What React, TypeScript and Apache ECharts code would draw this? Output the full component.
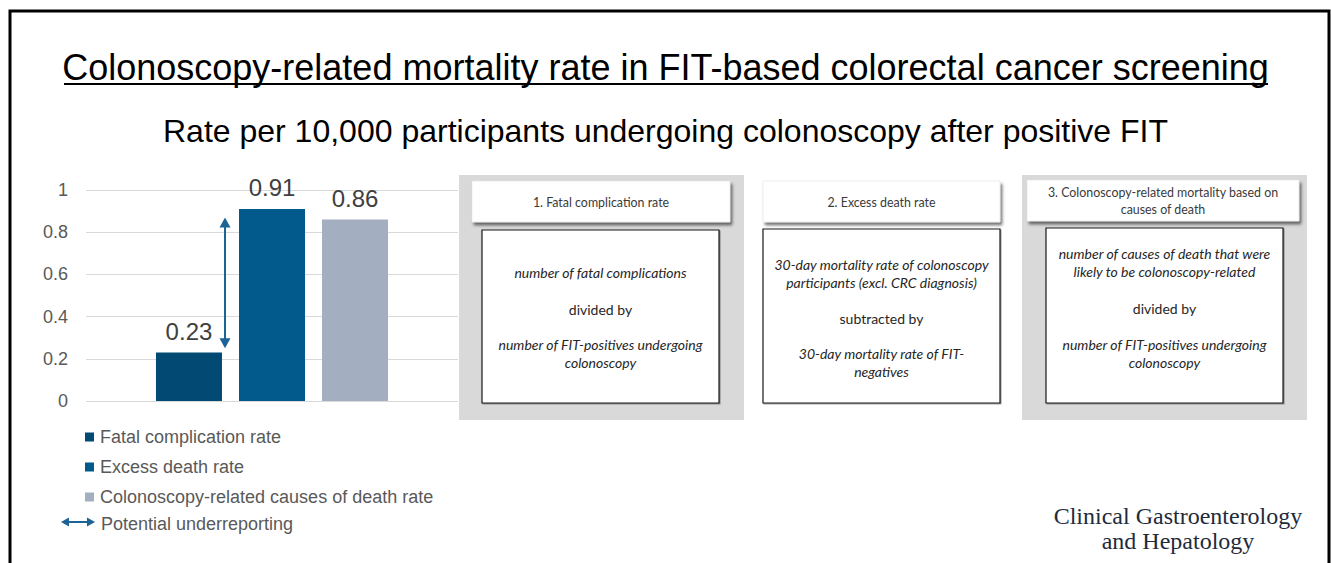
import React, { useEffect, useRef } from "react";
import * as echarts from "echarts";

// ---------- data ----------
const categories = ["Rate per 10,000"];
const seriesNames = [
  "Fatal complication rate",
  "Excess death rate",
  "Colonoscopy-related causes of death rate",
];
const fatalComplicationRate = [0.23];
const excessDeathRate = [0.91];
const causesOfDeathRate = [0.86];
const seriesValues = [fatalComplicationRate, excessDeathRate, causesOfDeathRate];
const seriesColors = ["#024A74", "#02598B", "#A3AEC0"];
const yMin = 0;
const yMax = 1;
const yInterval = 0.2;
const underreportingRange = [0.25, 0.87];
const underreportingLabel = "Potential underreporting";

const titleText =
  "Colonoscopy-related mortality rate in FIT-based colorectal cancer screening";
const subtitleText =
  "Rate per 10,000 participants undergoing colonoscopy after positive FIT";

const box1Header = ["1. Fatal complication rate"];
const box1Body = [
  { lines: ["number of fatal complications"], italic: true },
  { lines: ["divided by"], italic: false },
  { lines: ["number of FIT-positives undergoing", "colonoscopy"], italic: true },
];
const box2Header = ["2. Excess death rate"];
const box2Body = [
  {
    lines: ["30-day mortality rate of colonoscopy", "participants (excl. CRC diagnosis)"],
    italic: true,
  },
  { lines: ["subtracted by"], italic: false },
  { lines: ["30-day mortality rate of FIT-", "negatives"], italic: true },
];
const box3Header = ["3. Colonoscopy-related mortality based on", "causes of death"];
const box3Body = [
  {
    lines: ["number of causes of death that were", "likely to be colonoscopy-related"],
    italic: true,
  },
  { lines: ["divided by"], italic: false },
  { lines: ["number of FIT-positives undergoing", "colonoscopy"], italic: true },
];
const journalLines = ["Clinical Gastroenterology", "and Hepatology"];

const SANS = "'Liberation Sans', Arial, sans-serif";
const BOXFONT = "Lato, 'Open Sans', sans-serif";

function textEl(text: string, x: number, y: number, opts: any = {}) {
  return {
    type: "text",
    silent: true,
    z: 20,
    style: {
      text,
      x,
      y,
      fill: opts.fill || "#262626",
      fontSize: opts.fontSize || 13,
      fontFamily: opts.fontFamily || BOXFONT,
      fontStyle: opts.italic ? "italic" : "normal",
      fontWeight: "normal",
      lineHeight: opts.lineHeight || 18,
      align: "center",
      verticalAlign: "middle",
      textAlign: "center",
      textVerticalAlign: "middle",
    },
  };
}

function boxGraphics(cfg: any) {
  const els: any[] = [];
  if (cfg.gray) {
    els.push({
      type: "rect",
      silent: true,
      z: 10,
      shape: { x: cfg.gray[0], y: cfg.gray[1], width: cfg.gray[2], height: cfg.gray[3] },
      style: { fill: "#D9D9D9" },
    });
  }
  const h = cfg.header;
  els.push({
    type: "rect",
    silent: true,
    z: 11,
    shape: { x: h[0], y: h[1], width: h[2], height: h[3] },
    style: {
      fill: "#FFFFFF",
      stroke: "#E3E3E3",
      lineWidth: 0.6,
      shadowBlur: 3,
      shadowOffsetX: 2,
      shadowOffsetY: 3,
      shadowColor: "rgba(0,0,0,0.55)",
    },
  });
  const b = cfg.body;
  els.push({
    type: "rect",
    silent: true,
    z: 11,
    shape: { x: b[0], y: b[1], width: b[2], height: b[3] },
    style: {
      fill: "#FFFFFF",
      stroke: "#1A1A1A",
      lineWidth: 1.2,
      shadowBlur: 1,
      shadowOffsetX: 1,
      shadowOffsetY: 1,
      shadowColor: "rgba(0,0,0,0.35)",
    },
  });
  els.push(
    textEl(cfg.headerLines.join("\n"), h[0] + h[2] / 2, cfg.headerY, {
      fontSize: 12.4,
      fill: "#3A3A3A",
      lineHeight: 17,
    })
  );
  cfg.bodyGroups.forEach((g: any, i: number) => {
    els.push(
      textEl(g.lines.join("\n"), b[0] + b[2] / 2, cfg.bodyY[i], {
        italic: g.italic,
        fontSize: 14,
        lineHeight: 18,
      })
    );
  });
  return els;
}

function arrowGraphics(x1: number, y1: number, x2: number, y2: number, color: string, head: number, half: number, width: number) {
  const dx = x2 - x1;
  const dy = y2 - y1;
  const len = Math.sqrt(dx * dx + dy * dy);
  const ux = dx / len;
  const uy = dy / len;
  const px = -uy;
  const py = ux;
  return [
    {
      type: "line",
      silent: true,
      z: 30,
      shape: {
        x1: x1 + ux * (head - 1),
        y1: y1 + uy * (head - 1),
        x2: x2 - ux * (head - 1),
        y2: y2 - uy * (head - 1),
      },
      style: { stroke: color, lineWidth: width },
    },
    {
      type: "polygon",
      silent: true,
      z: 30,
      shape: {
        points: [
          [x1, y1],
          [x1 + ux * head + px * half, y1 + uy * head + py * half],
          [x1 + ux * head - px * half, y1 + uy * head - py * half],
        ],
      },
      style: { fill: color },
    },
    {
      type: "polygon",
      silent: true,
      z: 30,
      shape: {
        points: [
          [x2, y2],
          [x2 - ux * head + px * half, y2 - uy * head + py * half],
          [x2 - ux * head - px * half, y2 - uy * head - py * half],
        ],
      },
      style: { fill: color },
    },
  ];
}

export default function App() {
  const ref = useRef<HTMLDivElement>(null);

  useEffect(() => {
    if (!ref.current) return;
    const chart = echarts.init(ref.current, null, { renderer: "svg" });

    const option: any = {
      animation: false,
      backgroundColor: "#FFFFFF",
      title: [
        {
          text: titleText,
          left: "center",
          top: 49,
          padding: 0,
          textStyle: { fontFamily: SANS, fontSize: 36, fontWeight: "normal", color: "#000000" },
        },
        {
          text: subtitleText,
          left: "center",
          top: 115,
          padding: 0,
          textStyle: { fontFamily: SANS, fontSize: 32, fontWeight: "normal", color: "#000000" },
        },
      ],
      legend: {
        orient: "vertical",
        left: 85,
        top: 428,
        padding: 0,
        itemWidth: 9,
        itemHeight: 9,
        itemGap: 12,
        icon: "rect",
        selectedMode: false,
        data: seriesNames,
        textStyle: { fontFamily: SANS, fontSize: 18, color: "#595959", padding: [0, 0, 0, 1] },
      },
      grid: { left: 86, right: 873, top: 190, bottom: 162, containLabel: false },
      xAxis: {
        type: "category",
        data: categories,
        axisLine: { show: false },
        axisTick: { show: false },
        axisLabel: { show: false },
        splitLine: { show: false },
      },
      yAxis: {
        type: "value",
        min: yMin,
        max: yMax,
        interval: yInterval,
        axisLine: { show: false },
        axisTick: { show: false },
        axisLabel: {
          margin: 18,
          fontFamily: SANS,
          fontSize: 18,
          color: "#595959",
        },
        splitLine: { lineStyle: { color: "#D9D9D9", width: 1 } },
      },
      series: seriesNames.map((name, i) => ({
        type: "bar",
        name,
        data: seriesValues[i],
        barWidth: 66,
        barGap: "25.8%",
        itemStyle: { color: seriesColors[i] },
        label: {
          show: true,
          position: "top",
          distance: 9,
          fontFamily: SANS,
          fontSize: 24,
          color: "#404040",
          formatter: "{c}",
        },
      })),
    };
    chart.setOption(option);

    const cx = chart.convertToPixel({ xAxisIndex: 0 }, categories[0]) as number;
    const yTop = chart.convertToPixel({ yAxisIndex: 0 }, underreportingRange[1]) as number;
    const yBot = chart.convertToPixel({ yAxisIndex: 0 }, underreportingRange[0]) as number;
    const arrowX = cx - 47;
    const arrowColor = "#1D6396";

    const journalFont = "'Liberation Serif', 'Times New Roman', serif";

    const elements: any[] = [
      // frame
      {
        type: "rect",
        silent: true,
        z: 5,
        shape: { x: 10, y: 11, width: 1319, height: 700 },
        style: { fill: "none", stroke: "#000000", lineWidth: 3 },
      },
      // title underline
      {
        type: "line",
        silent: true,
        z: 5,
        shape: { x1: 64, y1: 84, x2: 1268, y2: 84 },
        style: { stroke: "#000000", lineWidth: 2 },
      },
      ...boxGraphics({
        gray: [459, 175, 285, 245],
        header: [472, 181, 258, 41],
        headerLines: box1Header,
        headerY: 202,
        body: [482, 230, 237, 173],
        bodyGroups: box1Body,
        bodyY: [272, 309, 353],
      }),
      ...boxGraphics({
        gray: null,
        header: [763, 181, 237, 41],
        headerLines: box2Header,
        headerY: 202,
        body: [763, 229, 237, 174],
        bodyGroups: box2Body,
        bodyY: [273, 318, 362],
      }),
      ...boxGraphics({
        gray: [1022, 175, 285, 245],
        header: [1027, 180, 272, 41],
        headerLines: box3Header,
        headerY: 201,
        body: [1046, 228, 237, 175],
        bodyGroups: box3Body,
        bodyY: [262, 308, 353],
      }),
      ...arrowGraphics(arrowX, yTop, arrowX, yBot, arrowColor, 10, 5.5, 2),
      ...arrowGraphics(61, 522, 95, 522, arrowColor, 8, 4.5, 2),
      {
        type: "text",
        silent: true,
        z: 20,
        style: {
          text: underreportingLabel,
          x: 101,
          y: 524,
          fill: "#595959",
          fontSize: 18,
          fontFamily: SANS,
          align: "left",
          verticalAlign: "middle",
          textAlign: "left",
          textVerticalAlign: "middle",
        },
      },
      ...journalLines.map((line, i) => ({
        type: "text",
        silent: true,
        z: 20,
        style: {
          text: line,
          x: 1178,
          y: 516 + i * 25,
          fill: "#1E2B3C",
          fontSize: 24,
          lineHeight: 24,
          fontFamily: journalFont,
          align: "center",
          verticalAlign: "middle",
          textAlign: "center",
          textVerticalAlign: "middle",
        },
      })),
    ];
    chart.setOption({ graphic: { elements } });

    return () => {
      chart.dispose();
    };
  }, []);

  return (
    <div
      ref={ref}
      style={{ position: "fixed", left: 0, top: 0, width: 1331, height: 563, background: "#FFFFFF" }}
    />
  );
}
